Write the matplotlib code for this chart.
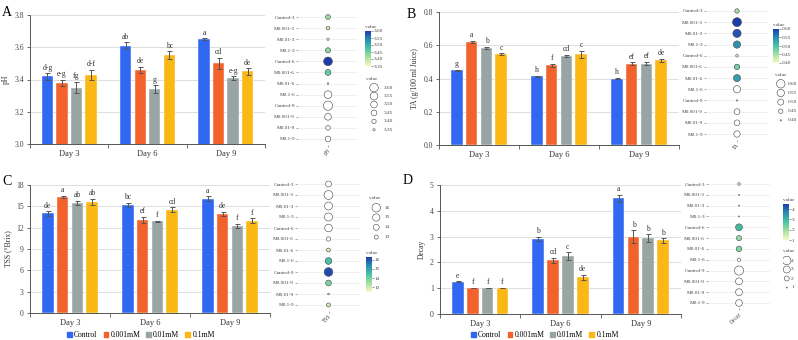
import numpy as np
import matplotlib
matplotlib.use('Agg')
import matplotlib.pyplot as plt
from matplotlib.colors import LinearSegmentedColormap, Normalize
from matplotlib.cm import ScalarMappable
from matplotlib.patches import Patch

plt.rcParams['font.family'] = ['Liberation Serif', 'DejaVu Serif']

W, H = 798, 340

days = ['Day 3', 'Day 6', 'Day 9']
treatments = ['Control', '0.001mM', '0.01mM', '0.1mM']
row_labels = ['Control-3', 'M0.001-3', 'M0.01-3', 'M0.1-3',
              'Control-6', 'M0.001-6', 'M0.01-6', 'M0.1-6',
              'Control-9', 'M0.001-9', 'M0.01-9', 'M0.1-9']

# means per treatment, [day3, day6, day9]
ph_mean = [[3.42, 3.61, 3.65], [3.38, 3.46, 3.50], [3.35, 3.34, 3.41], [3.43, 3.55, 3.45]]
ph_err = [[0.02, 0.02, 0.005], [0.02, 0.02, 0.035], [0.035, 0.025, 0.01], [0.03, 0.025, 0.02]]
ph_letters = [['d-g', 'ab', 'a'], ['e-g', 'de', 'cd'], ['fg', 'g', 'e-g'], ['d-f', 'bc', 'de']]

ta_mean = [[0.45, 0.415, 0.40], [0.62, 0.48, 0.49], [0.585, 0.535, 0.49], [0.545, 0.545, 0.51]]
ta_err = [[0.004, 0.003, 0.005], [0.005, 0.008, 0.007], [0.006, 0.008, 0.01], [0.006, 0.02, 0.01]]
ta_letters = [['g', 'h', 'h'], ['a', 'f', 'ef'], ['b', 'cd', 'ef'], ['c', 'c', 'de']]

tss_mean = [[14.0, 15.2, 16.1], [16.3, 13.1, 13.9], [15.5, 12.9, 12.25], [15.6, 14.5, 13.0]]
tss_err = [[0.3, 0.3, 0.3], [0.15, 0.4, 0.3], [0.3, 0.08, 0.3], [0.45, 0.35, 0.3]]
tss_letters = [['de', 'bc', 'a'], ['a', 'ef', 'de'], ['ab', 'f', 'f'], ['ab', 'cd', 'f']]

decay_mean = [[1.25, 2.92, 4.48], [1.0, 2.08, 3.0], [1.0, 2.25, 2.94], [1.0, 1.42, 2.85]]
decay_err = [[0.01, 0.08, 0.15], [0.01, 0.1, 0.25], [0.01, 0.15, 0.15], [0.01, 0.1, 0.08]]
decay_letters = [['e', 'b', 'a'], ['f', 'cd', 'b'], ['f', 'c', 'b'], ['f', 'de', 'b']]

# which dot-plot rows show colour (the rest are drawn white)
ph_colored = [1, 1, 1, 1, 1, 1, 0, 0, 0, 0, 0, 0]
ta_colored = [1, 1, 1, 1, 1, 1, 1, 0, 0, 0, 0, 0]
tss_colored = [0, 0, 0, 0, 0, 0, 1, 1, 1, 1, 1, 1]
decay_colored = [1, 1, 1, 1, 1, 1, 1, 0, 0, 0, 0, 0]

bar_colors = ['#3168f2', '#f4622c', '#98a5a2', '#fbb714']
cmap = LinearSegmentedColormap.from_list(
    'dots', ['#f4fbc4', '#a6e0a0', '#4cc4a2', '#2b8cb2', '#1d3dac'])

fig = plt.figure(figsize=(W / 100, H / 100), dpi=100)


def rect(x0, y0, x1, y1):
    return [x0 / W, 1 - y1 / H, (x1 - x0) / W, (y1 - y0) / H]


def bar_panel(box, mean, err, letters, ylim, yticks, ylabel, fmt):
    ax = fig.add_axes(rect(*box))
    x = np.arange(len(days))
    pitch, width = 0.185, 0.145
    for i in range(len(treatments)):
        xs = x + (i - 1.5) * pitch
        ax.bar(xs, mean[i], width, color=bar_colors[i], zorder=3,
               edgecolor='white', linewidth=0.3)
        ax.errorbar(xs, mean[i], yerr=err[i], fmt='none', ecolor='#555555',
                    elinewidth=0.7, capsize=1.8, capthick=0.7, zorder=4)
        for xx, m, e, t in zip(xs, mean[i], err[i], letters[i]):
            ax.text(xx, m + e + (ylim[1] - ylim[0]) * 0.012, t, ha='center',
                    va='bottom', fontsize=5.5, color='#333333')
    ax.set_xlim(-0.5, 2.5)
    ax.set_ylim(*ylim)
    ax.set_yticks(yticks)
    ax.set_yticklabels([fmt.format(v) for v in yticks], fontsize=5.5, color='#444444')
    ax.set_xticks(x)
    ax.set_xticklabels(days, fontsize=6, color='#333333')
    ax.set_xticks([-0.5, 0.5, 1.5, 2.5], minor=True)
    ax.tick_params(axis='x', which='major', length=0, pad=4)
    ax.tick_params(axis='x', which='minor', length=3, width=0.6, color='#555555')
    ax.tick_params(axis='y', length=2.5, width=0.6, color='#555555', pad=2)
    ax.set_ylabel(ylabel, fontsize=5.5, color='#333333', labelpad=3)
    ax.yaxis.grid(True, color='#dddddd', linewidth=0.7, zorder=0)
    for s in ['top', 'right']:
        ax.spines[s].set_visible(False)
    for s in ['left', 'bottom']:
        ax.spines[s].set_color('#555555')
        ax.spines[s].set_linewidth(0.7)
    return ax


def dot_panel(box, mean, colored, name, vmin, vmax, v0, vref, dref):
    ax = fig.add_axes(rect(*box))
    vals = [mean[t][d] for d in range(len(days)) for t in range(len(treatments))]
    norm = Normalize(vmin, vmax)
    rows = np.arange(len(vals))
    sizes = [((dref * np.sqrt(max(v - v0, 0) / (vref - v0))) * 0.72) ** 2 for v in vals]
    cols = [cmap(norm(v)) if c else 'white' for v, c in zip(vals, colored)]
    for r in rows:
        ax.axhline(r, color='#eeeeee', linewidth=0.6, zorder=0)
    ax.scatter(np.full(len(vals), 0.5), rows, s=sizes, c=cols,
               edgecolors='#444444', linewidths=0.4, zorder=3)
    ax.set_xlim(0, 1)
    ax.set_ylim(len(vals) - 0.5, -0.5)
    ax.set_yticks(rows)
    ax.set_yticklabels(row_labels, fontsize=3.8, color='#444444')
    ax.tick_params(axis='y', length=1.2, width=0.4, color='#666666', pad=1)
    ax.set_xticks([0.5])
    ax.set_xticklabels([name], fontsize=4, rotation=45, ha='right',
                       rotation_mode='anchor', color='#444444')
    ax.tick_params(axis='x', length=1.2, width=0.4, color='#666666', pad=1)
    for s in ax.spines.values():
        s.set_visible(False)
    return norm


def colorbar(box, norm, ticks, fmt):
    cax = fig.add_axes(rect(*box))
    cb = fig.colorbar(ScalarMappable(norm=norm, cmap=cmap), cax=cax)
    cb.outline.set_visible(False)
    cb.set_ticks(ticks)
    cb.set_ticklabels([fmt.format(t) for t in ticks])
    cax.tick_params(labelsize=3.8, length=1.2, width=0.4, colors='#444444', pad=1)
    cax.set_title('value', fontsize=3.8, color='#444444', loc='left', pad=2)


def size_legend(box, values, fmt, v0, vref, dref):
    lax = fig.add_axes(rect(*box))
    n = len(values)
    ys = np.arange(n)
    sizes = [((dref * np.sqrt(max(v - v0, 0) / (vref - v0))) * 0.72) ** 2 for v in values]
    lax.scatter(np.full(n, 0.25), ys, s=sizes, c='white', edgecolors='#444444',
                linewidths=0.4)
    for y, v in zip(ys, values):
        lax.text(0.55, y, fmt.format(v), fontsize=3.8, va='center', color='#444444')
    lax.text(0.0, -1.0, 'value', fontsize=3.8, va='center', color='#444444')
    lax.set_xlim(0, 1)
    lax.set_ylim(n - 0.5, -1.5)
    lax.axis('off')


# A: pH
bar_panel((30, 15, 265, 144), ph_mean, ph_err, ph_letters, (3.0, 3.8),
          [3.0, 3.2, 3.4, 3.6, 3.8], 'pH', '{:.1f}')
n = dot_panel((298, 11.5, 358, 144.5), ph_mean, ph_colored, 'pH', 3.35, 3.60, 3.33, 3.60, 8.5)
colorbar((365, 31, 371, 66), n, [3.35, 3.40, 3.45, 3.50, 3.55, 3.60], '{:.2f}')
size_legend((366, 75, 398, 134), [3.60, 3.55, 3.50, 3.45, 3.40, 3.35], '{:.2f}', 3.33, 3.60, 8.5)

# B: TA
bar_panel((439, 12, 679, 145), ta_mean, ta_err, ta_letters, (0.0, 0.8),
          [0.0, 0.2, 0.4, 0.6, 0.8], 'TA (g/100 ml Juice)', '{:.1f}')
n = dot_panel((706, 5.4, 768, 139.6), ta_mean, ta_colored, 'TA', 0.40, 0.60, 0.395, 0.60, 8.5)
colorbar((773, 29, 779, 63), n, [0.40, 0.45, 0.50, 0.55, 0.60], '{:.2f}')
size_legend((775, 70, 798, 125), [0.60, 0.55, 0.50, 0.45, 0.40], '{:.2f}', 0.395, 0.60, 8.5)

# C: TSS
bar_panel((30, 185, 270, 313), tss_mean, tss_err, tss_letters, (0, 18),
          [0, 3, 6, 9, 12, 15, 18], 'TSS (°Brix)', '{:.0f}')
n = dot_panel((297, 178.5, 360, 310.5), tss_mean, tss_colored, 'TSS', 12.5, 16.3, 12.1, 16.0, 8.5)
size_legend((369, 193, 398, 242), [16, 15, 14, 13], '{:.0f}', 12.1, 16.0, 8.5)
colorbar((366, 257, 372, 292), n, [13, 14, 15, 16], '{:.0f}')

# D: Decay
bar_panel((440, 185, 681, 314), decay_mean, decay_err, decay_letters, (0, 5),
          [0, 1, 2, 3, 4, 5], 'Decay', '{:.0f}')
n = dot_panel((708, 178.6, 770, 308.4), decay_mean, decay_colored, 'Decay', 1.0, 4.5, 0.95, 4.0, 8.5)
colorbar((783, 204, 789, 240), n, [1, 2, 3, 4], '{:.0f}')
size_legend((783, 247, 798, 292), [4, 3, 2, 1], '{:.0f}', 0.95, 4.0, 8.5)

# panel letters
for lbl, x, y in [('A', 2, 16), ('B', 407, 18), ('C', 2, 185), ('D', 403, 184)]:
    fig.text(x / W, 1 - y / H, lbl, fontsize=10, va='baseline', ha='left')

# one legend under each bottom bar chart
handles = [Patch(color=c) for c in bar_colors]
for cx in (141, 545):
    fig.legend(handles, treatments, loc='center', bbox_to_anchor=(cx / W, 1 - 335 / H),
               ncol=4, frameon=False, fontsize=5.5, handlelength=0.6, handleheight=0.6,
               handletextpad=0.3, columnspacing=0.8, borderpad=0)

fig.savefig('out.png', dpi=100)
